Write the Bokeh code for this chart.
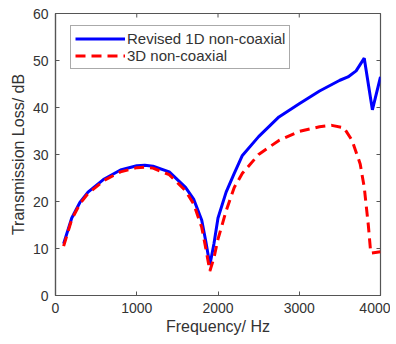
import math
from bokeh.plotting import figure
from bokeh.models import Range1d, Legend, LegendItem, FixedTicker
from bokeh.embed import file_html
from bokeh.resources import INLINE

freq_1d = [100, 200, 300, 400, 600, 800, 1000, 1100, 1200, 1400, 1600, 1700, 1800, 1850, 1900,
           1950, 2000, 2100, 2200, 2300, 2500, 2750, 3000, 3250, 3500, 3600, 3700, 3800, 3900, 4000]
tl_1d = [11, 16.5, 19.8, 22, 24.8, 26.7, 27.6, 27.7, 27.5, 26.3, 23, 20.5, 16, 11.5, 6.5,
         11, 16.5, 22, 26, 29.8, 33.8, 38, 40.8, 43.5, 45.8, 46.5, 47.8, 50.5, 39.5, 46.5]

freq_3d = [100, 200, 300, 400, 600, 800, 1000, 1100, 1200, 1400, 1600, 1700, 1800, 1850, 1900,
           1950, 2000, 2100, 2200, 2300, 2500, 2750, 3000, 3250, 3400, 3550, 3650, 3750, 3800,
           3850, 3880, 4000]
tl_3d = [10.5, 16.2, 19.5, 21.7, 24.5, 26.3, 27.2, 27.3, 27.1, 25.7, 22.3, 19.5, 14.5, 10, 5.2,
         8, 12, 18, 23, 26, 30, 33, 34.9, 35.9, 36.2, 35.7, 33, 28, 23, 15, 9, 9.3]

x_ticks = [0, 1000, 2000, 3000, 4000]
y_ticks = [0, 10, 20, 30, 40, 50, 60]

FONT = "Liberation Sans"
AX = "#555555"
TXT = "#333333"

p = figure(width=390, height=340, output_backend="svg", toolbar_location=None,
           x_range=Range1d(0, 4000), y_range=Range1d(0, 60),
           min_border_left=55, min_border_right=10, min_border_top=13, min_border_bottom=45)
p.grid.visible = False
p.outline_line_color = AX
p.outline_line_width = 1.2
p.background_fill_color = "white"
p.border_fill_color = "white"

bottom = p.below[0]
left = p.left[0]

r1 = p.line(freq_1d, tl_1d, line_color="#0000FF", line_width=3)
r2 = p.line(freq_3d, tl_3d, line_color="#FF0000", line_width=3, line_dash="10 6")

# inward ticks on top and right edges (clipped to the frame)
p.scatter(x_ticks, [60] * len(x_ticks), marker="dash", size=8, angle=math.pi / 2,
          line_color=AX, line_width=1)
p.scatter([4000] * len(y_ticks), y_ticks, marker="dash", size=8,
          line_color=AX, line_width=1)

bottom.ticker = FixedTicker(ticks=x_ticks)
bottom.axis_label = "Frequency/ Hz"
left.ticker = FixedTicker(ticks=y_ticks)
left.axis_label = "Transmission Loss/ dB"

for ax in [bottom, left]:
    ax.axis_line_color = AX
    ax.axis_line_width = 1.2
    ax.major_tick_line_color = AX
    ax.major_tick_in = 4
    ax.major_tick_out = 0
    ax.minor_tick_line_color = None
    ax.major_label_text_font = FONT
    ax.major_label_text_color = TXT
    ax.major_label_text_font_size = "14px"
    ax.axis_label_text_font = FONT
    ax.axis_label_text_color = TXT
    ax.axis_label_text_font_style = "normal"
    ax.axis_label_text_font_size = "16px"

bottom.major_label_standoff = 7
left.major_label_standoff = 7
bottom.axis_label_standoff = 2
left.axis_label_standoff = 3

legend = Legend(items=[LegendItem(label="Revised 1D non-coaxial", renderers=[r1]),
                       LegendItem(label="3D non-coaxial", renderers=[r2])],
                location=(15, 226))
legend.label_text_font = FONT
legend.label_text_font_size = "15px"
legend.label_text_color = TXT
legend.glyph_width = 50
legend.glyph_height = 17
legend.label_height = 17
legend.label_standoff = 2
legend.spacing = 0
legend.padding = 4
legend.margin = 0
legend.border_line_color = AX
legend.border_line_width = 1.2
legend.background_fill_alpha = 1
p.add_layout(legend, "center")

open("out.html", "w").write(file_html(p, INLINE))
